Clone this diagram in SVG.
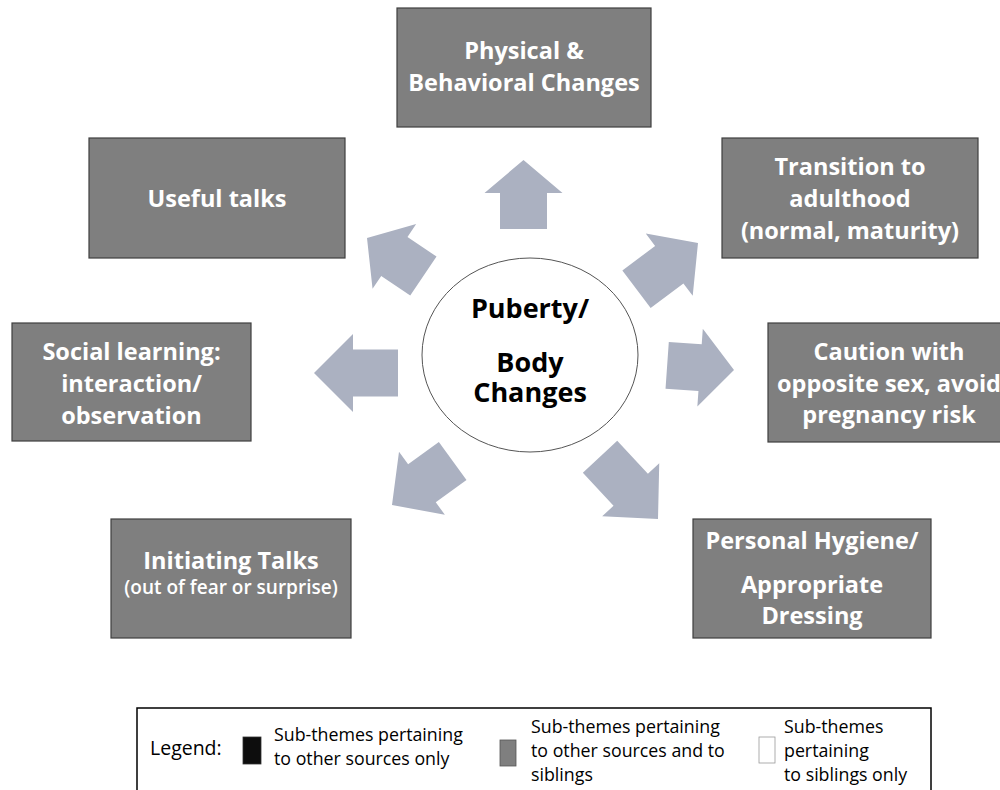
<svg xmlns="http://www.w3.org/2000/svg" width="1000" height="790" viewBox="0 0 1000 790">
<style>
.box{fill:#7f7f7f;stroke:#3f3f3f;stroke-width:1.2}
.bt{font-family:"Open Sans","Liberation Sans",sans-serif;font-weight:700;font-size:23.5px;fill:#ffffff;text-anchor:middle}
.sm{font-family:"Open Sans","Liberation Sans",sans-serif;font-weight:600;font-size:19px;fill:#ffffff;text-anchor:middle}
.arr{fill:#abb1c1}
.ct{font-family:"Open Sans","Liberation Sans",sans-serif;font-weight:700;font-size:27px;fill:#000000;text-anchor:middle}
.lt{font-family:"Open Sans","Liberation Sans",sans-serif;font-size:17.8px;fill:#000000}
</style>
<rect width="1000" height="790" fill="#ffffff"/>
<g id="connectors">
<polygon class="arr" transform="translate(523.5,160) rotate(-90)" points="0,0 -33,-39 -33,-23.5 -69,-23.5 -69,23.5 -33,23.5 -33,39"/>
<polygon class="arr" transform="translate(698,243) rotate(-37)" points="0,0 -36,-39 -36,-23.5 -77,-23.5 -77,23.5 -36,23.5 -36,39"/>
<polygon class="arr" transform="translate(734,370) rotate(4)" points="0,0 -34,-39 -34,-23.5 -67,-23.5 -67,23.5 -34,23.5 -34,39"/>
<polygon class="arr" transform="translate(658,519) rotate(47)" points="0,0 -40,-39 -40,-23.5 -85,-23.5 -85,23.5 -40,23.5 -40,39"/>
<polygon class="arr" transform="translate(392,505) rotate(144)" points="0,0 -37,-39 -37,-23.5 -75,-23.5 -75,23.5 -37,23.5 -37,39"/>
<polygon class="arr" transform="translate(314,373) rotate(180)" points="0,0 -39,-39 -39,-23.5 -84,-23.5 -84,23.5 -39,23.5 -39,39"/>
<polygon class="arr" transform="translate(367,238) rotate(-146)" points="0,0 -33,-39 -33,-23.5 -68,-23.5 -68,23.5 -33,23.5 -33,39"/>
</g>
<g id="center">
<ellipse cx="530" cy="355" rx="108" ry="97" fill="#ffffff" stroke="#555555" stroke-width="1"/>
<text class="ct" x="530" y="318">Puberty/</text>
<text class="ct" x="530" y="372">Body</text>
<text class="ct" x="530" y="402">Changes</text>
</g>
<g id="physical">
<rect class="box" x="397" y="8" width="254" height="119"/>
<text class="bt" x="524" y="59">Physical &amp;</text>
<text class="bt" x="524" y="91">Behavioral Changes</text>
</g>
<g id="transition">
<rect class="box" x="722" y="138" width="256" height="120"/>
<text class="bt" x="850" y="175">Transition to</text>
<text class="bt" x="850" y="207">adulthood</text>
<text class="bt" x="850" y="239">(normal, maturity)</text>
</g>
<g id="caution">
<rect class="box" x="768" y="323" width="242" height="119"/>
<text class="bt" x="889" y="360">Caution with</text>
<text class="bt" x="889" y="392">opposite sex, avoid</text>
<text class="bt" x="889" y="423">pregnancy risk</text>
</g>
<g id="hygiene">
<rect class="box" x="693" y="519" width="238" height="119"/>
<text class="bt" x="812" y="549">Personal Hygiene/</text>
<text class="bt" x="812" y="593">Appropriate</text>
<text class="bt" x="812" y="624">Dressing</text>
</g>
<g id="initiating">
<rect class="box" x="111" y="519" width="240" height="119"/>
<text class="bt" x="231" y="569">Initiating Talks</text>
<text class="sm" x="231" y="594">(out of fear or surprise)</text>
</g>
<g id="social">
<rect class="box" x="12" y="323" width="239" height="118"/>
<text class="bt" x="131.5" y="360">Social learning:</text>
<text class="bt" x="131.5" y="392">interaction/</text>
<text class="bt" x="131.5" y="424">observation</text>
</g>
<g id="useful">
<rect class="box" x="89" y="138" width="256" height="120"/>
<text class="bt" x="217" y="207">Useful talks</text>
</g>
<g id="legend">
<rect x="137" y="708" width="794" height="90" fill="#ffffff" stroke="#000000" stroke-width="1.5"/>
<text class="lt" x="150" y="755" style="font-size:19.5px">Legend:</text>
<rect x="243" y="737" width="18" height="27" fill="#0d0d0d" stroke="#333333" stroke-width="0.8"/>
<text class="lt" x="274" y="741">Sub-themes pertaining</text>
<text class="lt" x="274" y="765">to other sources only</text>
<rect x="500" y="740" width="16" height="26" fill="#7f7f7f" stroke="#555555" stroke-width="0.8"/>
<text class="lt" x="531" y="733">Sub-themes pertaining</text>
<text class="lt" x="531" y="757">to other sources and to</text>
<text class="lt" x="531" y="781">siblings</text>
<rect x="759" y="737" width="16" height="26" fill="#ffffff" stroke="#999999" stroke-width="0.8"/>
<text class="lt" x="784" y="733">Sub-themes</text>
<text class="lt" x="784" y="757">pertaining</text>
<text class="lt" x="784" y="781">to siblings only</text>
</g>
</svg>
